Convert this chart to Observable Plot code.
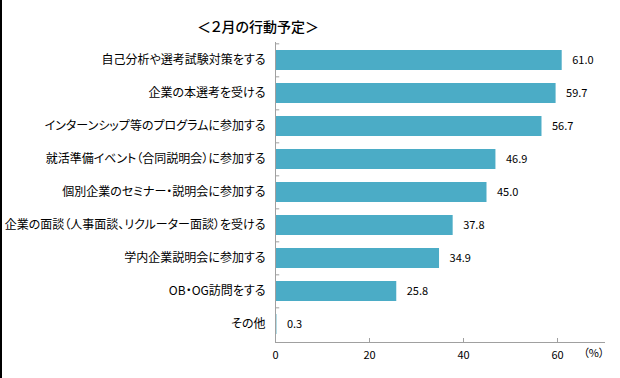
<!DOCTYPE html>
<html><head><meta charset="utf-8">
<script src="https://cdn.jsdelivr.net/npm/d3@7"></script>
<script src="https://cdn.jsdelivr.net/npm/@observablehq/plot@0.6"></script>
<style>
body{margin:0;background:#fff;font-family:"Noto Sans CJK JP",sans-serif;}
#wrap{position:relative;width:620px;height:378px;overflow:hidden;}
#border{position:absolute;left:0;top:0;width:2px;height:378px;background:#000;}
#title{position:absolute;left:0;top:0;width:516px;height:42px;text-align:center;font-size:14px;line-height:52px;color:#000;font-weight:500;font-feature-settings:"palt";}
#chart{position:absolute;left:0;top:36px;}
#chart svg text{font-feature-settings:"palt";}
</style></head>
<body><div id="wrap"><div id="border"></div><div id="title">＜２月の行動予定＞</div><div id="chart"></div></div>
<script>
const categories = [
  "自己分析や選考試験対策をする",
  "企業の本選考を受ける",
  "インターンシップ等のプログラムに参加する",
  "就活準備イベント（合同説明会）に参加する",
  "個別企業のセミナー・説明会に参加する",
  "企業の面談（人事面談、リクルーター面談）を受ける",
  "学内企業説明会に参加する",
  "OB・OG訪問をする",
  "その他"
];
const values = [61.0, 59.7, 56.7, 46.9, 45.0, 37.8, 34.9, 25.8, 0.3];
const xTicks = [0, 20, 40, 60];
const data = categories.map((c, i) => ({cat: c, v: values[i]}));
const axisColor = "#a0a0a0";

const plot = Plot.plot({
  width: 620,
  height: 342,
  marginTop: 6,
  marginBottom: 36,
  marginLeft: 275,
  marginRight: 16,
  style: {fontFamily: '"Noto Sans CJK JP", sans-serif', fontSize: "11px", color: "#000", background: "transparent"},
  x: {domain: [0, 70], axis: null, label: null},
  y: {domain: categories, paddingInner: 0.4, paddingOuter: 0.2, axis: null, label: null},
  marks: [
    Plot.barX(data, {x: "v", y: "cat", fill: "#4bacc6"}),
    Plot.text(data, {x: "v", y: "cat", text: d => d.v.toFixed(1), textAnchor: "start", dx: 10, fill: "#000"}),
    Plot.axisY({tickSize: 0, tickPadding: 10, fontSize: 12, fill: "#000", label: null}),
    Plot.ruleY(categories, {y: d => d, dy: -300 / 18, x1: 0, x2: 0.9, stroke: axisColor}),
    Plot.ruleX([0], {stroke: axisColor}),
    Plot.frame({anchor: "bottom", stroke: axisColor}),
    Plot.ruleX(xTicks, {stroke: axisColor, insetTop: 296}),
    Plot.axisX(xTicks, {tickSize: 0, tickPadding: 9, fontSize: 11, fill: "#000", label: null}),
    Plot.text(["（%）"], {x: 70, frameAnchor: "bottom", textAnchor: "end", dy: 14, fill: "#000"})
  ]
});
document.getElementById("chart").appendChild(plot);
</script>
</body></html>
